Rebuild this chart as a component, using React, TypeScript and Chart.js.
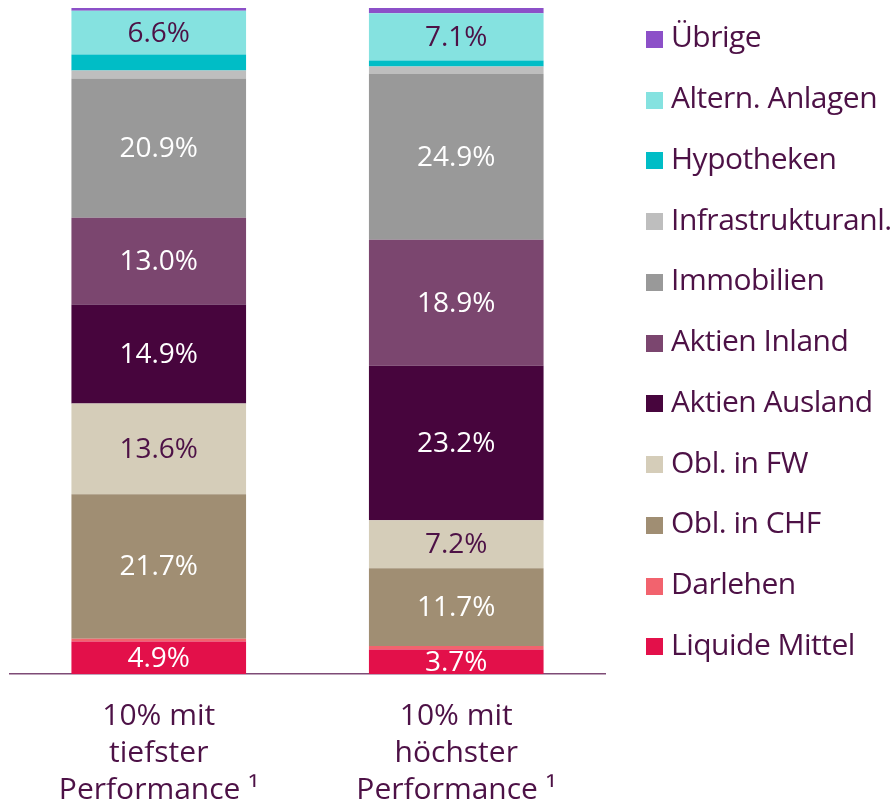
import React, { useEffect, useRef } from "react";
import { Chart, registerables } from "chart.js";

Chart.register(...registerables);

// ---- Data ----
const categories: string[][] = [
  ["10% mit", "tiefster", "Performance \u00B9"],
  ["10% mit", "höchster", "Performance \u00B9"],
];

const liquideMittel = [4.9, 3.7];
const darlehen = [0.4, 0.5];
const oblCHF = [21.7, 11.7];
const oblFW = [13.6, 7.2];
const aktienAusland = [14.9, 23.2];
const aktienInland = [13.0, 18.9];
const immobilien = [20.9, 24.9];
const infrastruktur = [1.2, 1.1];
const hypotheken = [2.4, 0.9];
const alternAnlagen = [6.6, 7.1];
const uebrige = [0.4, 0.8];

const seriesNames = [
  "Liquide Mittel",
  "Darlehen",
  "Obl. in CHF",
  "Obl. in FW",
  "Aktien Ausland",
  "Aktien Inland",
  "Immobilien",
  "Infrastrukturanl.",
  "Hypotheken",
  "Altern. Anlagen",
  "Übrige",
];
const seriesValues = [
  liquideMittel,
  darlehen,
  oblCHF,
  oblFW,
  aktienAusland,
  aktienInland,
  immobilien,
  infrastruktur,
  hypotheken,
  alternAnlagen,
  uebrige,
];
const seriesColors = [
  "#E3104A",
  "#F2636E",
  "#A08E73",
  "#D5CDB9",
  "#47053D",
  "#7B466F",
  "#999999",
  "#BEBEBE",
  "#00BDC6",
  "#85E2E0",
  "#8C50C8",
];
// label colour per series; null = no label
const labelColors: (string | null)[] = [
  "#FFFFFF",
  null,
  "#FFFFFF",
  "#4D1146",
  "#FFFFFF",
  "#FFFFFF",
  "#FFFFFF",
  null,
  null,
  "#4D1146",
  null,
];

const TEXT = "#4D1146";
const FONT = "'Open Sans', sans-serif";

const valueLabelPlugin = {
  id: "valueLabels",
  afterDatasetsDraw(chart: any) {
    const ctx = chart.ctx;
    ctx.save();
    ctx.font = `28px ${FONT}`;
    ctx.textAlign = "center";
    ctx.textBaseline = "middle";
    chart.data.datasets.forEach((ds: any, di: number) => {
      const col = labelColors[di];
      if (!col) return;
      const meta = chart.getDatasetMeta(di);
      meta.data.forEach((el: any, i: number) => {
        const v = ds.data[i];
        const cy = (el.y + el.base) / 2 + 1;
        ctx.fillStyle = col;
        ctx.fillText(v.toFixed(1) + "%", el.x, cy);
      });
    });
    ctx.restore();
  },
};

export default function App() {
  const canvasRef = useRef<HTMLCanvasElement | null>(null);

  useEffect(() => {
    if (!canvasRef.current) return;
    const chart = new Chart(canvasRef.current, {
      type: "bar",
      data: {
        labels: categories as any,
        datasets: seriesNames.map((name, i) => ({
          label: name,
          data: seriesValues[i],
          backgroundColor: seriesColors[i],
          borderWidth: 0,
          barPercentage: 0.587,
          categoryPercentage: 1,
        })),
      },
      options: {
        animation: false,
        responsive: false,
        devicePixelRatio: 1,
        layout: { padding: { left: 10, right: 285, top: 8, bottom: -27 } },
        plugins: {
          legend: { display: false },
          tooltip: { enabled: false },
        },
        scales: {
          x: {
            stacked: true,
            grid: { display: false, drawTicks: false },
            border: { display: true, color: "#7E4B76", width: 1.5 },
            ticks: {
              color: TEXT,
              padding: 24,
              font: { family: FONT, size: 30, lineHeight: 1.233 },
              maxRotation: 0,
              autoSkip: false,
            },
          },
          y: {
            stacked: true,
            display: false,
            min: 0,
            max: 100,
          },
        },
      },
      plugins: [valueLabelPlugin],
    });
    return () => chart.destroy();
  }, []);

  const legendItems = seriesNames
    .map((n, i) => ({ name: n, color: seriesColors[i] }))
    .reverse();

  return (
    <div
      style={{
        position: "fixed",
        left: 0,
        top: 0,
        width: 890,
        height: 806,
        background: "#FFFFFF",
        overflow: "hidden",
      }}
    >
      <canvas
        ref={canvasRef}
        width={890}
        height={806}
        style={{ position: "absolute", left: 0, top: 0, width: 890, height: 806 }}
      />
      <div style={{ position: "absolute", left: 646, top: 9, width: 260 }}>
        {legendItems.map((it) => (
          <div
            key={it.name}
            style={{
              height: 60.75,
              display: "flex",
              alignItems: "center",
              whiteSpace: "nowrap",
            }}
          >
            <span
              style={{
                display: "inline-block",
                width: 17,
                height: 17,
                background: it.color,
                marginRight: 8,
                flex: "0 0 auto",
              }}
            />
            <span
              style={{
                fontFamily: FONT,
                fontSize: 30,
                color: TEXT,
                lineHeight: "36px",
                position: "relative",
                top: -3,
                letterSpacing: -0.5,
              }}
            >
              {it.name}
            </span>
          </div>
        ))}
      </div>
    </div>
  );
}
